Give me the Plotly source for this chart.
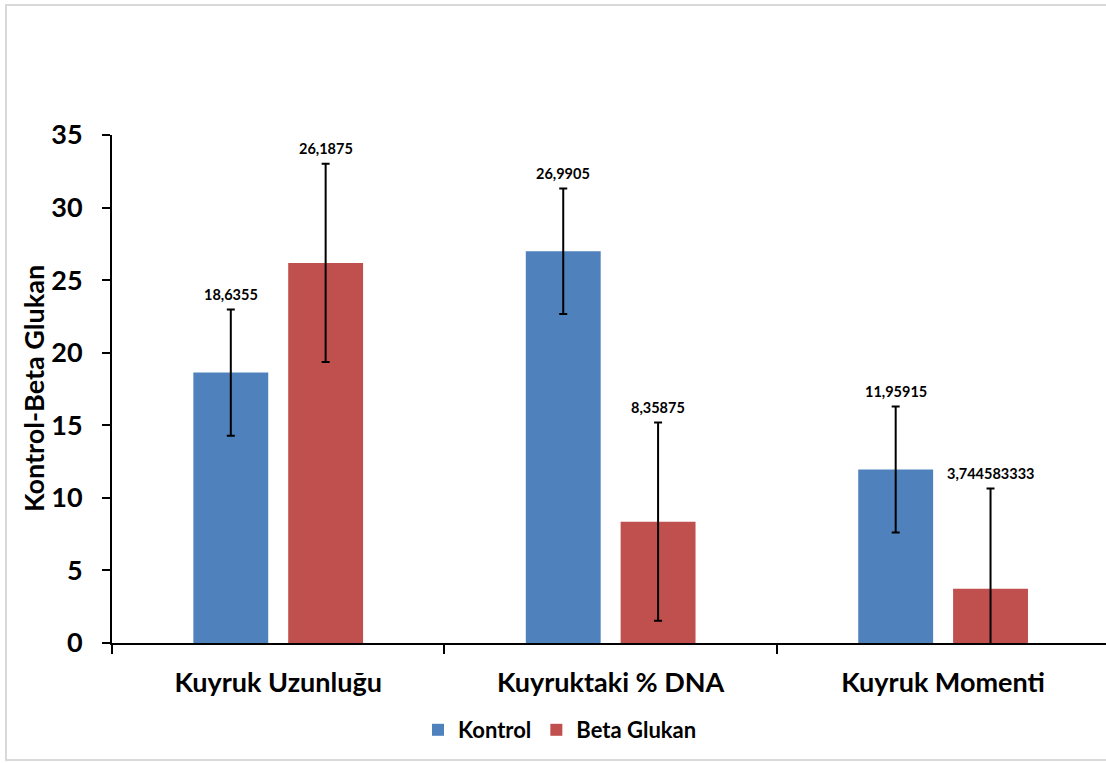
import plotly.graph_objects as go

categories = ["Kuyruk Uzunluğu", "Kuyruktaki % DNA", "Kuyruk Momenti"]
kontrol = [18.6355, 26.9905, 11.95915]
beta = [26.1875, 8.35875, 3.744583333]
kontrol_err = [4.35, 4.33, 4.34]
beta_err = [6.83, 6.83, 6.9]
series_names = ["Kontrol", "Beta Glukan"]
y_ticks = [0, 5, 10, 15, 20, 25, 30, 35]
y_title = "Kontrol-Beta Glukan"

FONT = "Lato"
BLUE = "#4F81BD"
RED = "#C0504D"

fig = go.Figure()
for name, vals, errs, col in [(series_names[0], kontrol, kontrol_err, BLUE),
                              (series_names[1], beta, beta_err, RED)]:
    fig.add_trace(go.Bar(
        x=categories, y=vals, name="<b>" + name + "</b>",
        marker=dict(color=col, line=dict(width=0)),
        error_y=dict(type="data", array=errs, visible=True, color="black", thickness=2, width=4),
    ))

def fmt(v):
    return str(v).replace(".", ",")

annotations = []
for i, cat in enumerate(categories):
    for k, (vals, errs) in enumerate([(kontrol, kontrol_err), (beta, beta_err)]):
        off = -0.1428 if k == 0 else 0.1428
        annotations.append(dict(
            x=i + off, y=vals[i] + errs[i], xref="x", yref="y",
            text="<b>" + fmt(vals[i]) + "</b>", showarrow=False,
            yanchor="middle", yshift=15,
            font=dict(family=FONT, size=14.5, color="black"),
        ))

annotations.append(dict(
    x=(33 - 112) / 994, y=0.5, xref="paper", yref="paper", text="<b>" + y_title + "</b>",
    textangle=-90, showarrow=False, xanchor="center", yanchor="middle",
    font=dict(family=FONT, size=27, color="black"),
))

fig.update_layout(
    width=1106, height=763,
    margin=dict(l=112, r=0, t=135, b=120),
    paper_bgcolor="white", plot_bgcolor="white",
    barmode="group", bargap=0.4294, bargroupgap=0.2105,
    font=dict(family=FONT, color="black"),
    showlegend=True,
    legend=dict(orientation="h", x=(560 - 112) / 994, y=(643 - 730) / 508,
                xanchor="center", yanchor="middle",
                font=dict(family=FONT, size=22, color="black"),
                itemwidth=30, traceorder="normal"),
    annotations=annotations,
    shapes=[dict(type="rect", xref="paper", yref="paper",
                 x0=(6 - 112) / 994, x1=1.05, y0=(643 - 760) / 508, y1=(643 - 5) / 508,
                 line=dict(color="#D9D9D9", width=2), layer="below")],
)

fig.update_xaxes(
    range=[-0.5, 2.49], showline=True, linecolor="black", linewidth=2,
    ticks="outside", tickson="boundaries", ticklen=9, tickwidth=2, tickcolor="black",
    showgrid=False, zeroline=False,
    tickfont=dict(family=FONT, size=27, color="black"),
    ticklabelstandoff=15,
    tickvals=categories, ticktext=["<b>" + c + "</b>" for c in categories],
)
fig.update_yaxes(
    range=[0, 35], tickvals=y_ticks, ticktext=["<b>" + str(t) + "</b>" for t in y_ticks],
    showline=True, linecolor="black", linewidth=2,
    ticks="outside", ticklen=8, tickwidth=2, tickcolor="black",
    showgrid=False, zeroline=False,
    tickfont=dict(family=FONT, size=27, color="black"),
    ticklabelstandoff=14,
)

fig.write_html("out.html", config={"displayModeBar": False},
               post_script="document.body.style.margin='0';document.body.style.overflow='hidden';")
